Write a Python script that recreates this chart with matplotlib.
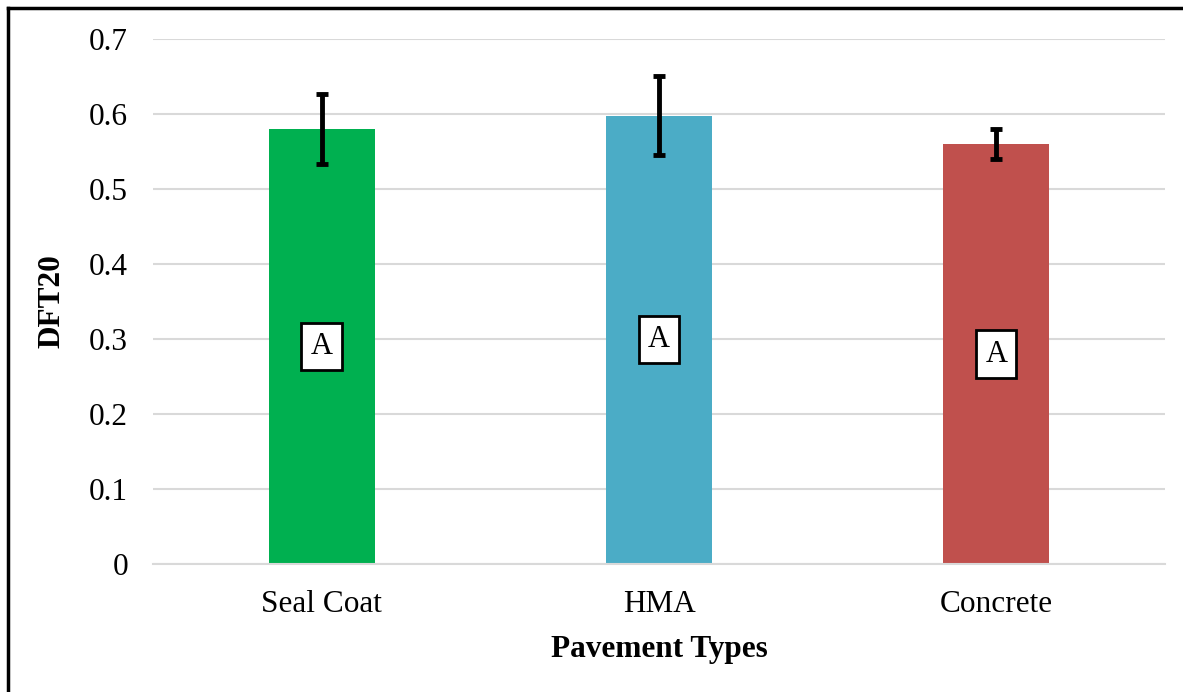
import matplotlib.pyplot as plt
from matplotlib.lines import Line2D

# dati
pavements = ['Seal Coat', 'HMA', 'Concrete']
dft20 = [0.580, 0.598, 0.560]
errors = [0.047, 0.053, 0.020]
groups = ['A', 'A', 'A']
colors = ['#00B050', '#4BACC6', '#C0504D']
yticks = [0, 0.1, 0.2, 0.3, 0.4, 0.5, 0.6, 0.7]

plt.rcParams['font.family'] = ['Liberation Serif', 'DejaVu Serif']

fig = plt.figure(figsize=(11.83, 6.92), dpi=100)
ax = fig.add_axes([153 / 1183, 128 / 692, 1012 / 1183, 525 / 692])

x = range(len(pavements))
ax.bar(x, dft20, width=0.315, color=colors, zorder=2)
ax.errorbar(x, dft20, yerr=errors, fmt='none', ecolor='black',
            elinewidth=3.5, capsize=4.5, capthick=3.5, zorder=3)

# etichette dei gruppi al centro delle barre
for i, (v, g) in enumerate(zip(dft20, groups)):
    ax.text(i, v / 2, g, ha='center', va='center', fontsize=22, zorder=4,
            bbox=dict(boxstyle='square,pad=0.3', facecolor='white',
                      edgecolor='black', linewidth=2))

ax.set_xlim(-0.5, 2.5)
ax.set_ylim(0, 0.7)
ax.set_yticks(yticks)
ax.set_yticklabels(['0' if t == 0 else f'{t:.1f}' for t in yticks])
ax.set_xticks(list(x))
ax.set_xticklabels(pavements)
ax.tick_params(axis='both', length=0, labelsize=22.5)
ax.tick_params(axis='y', pad=18)
ax.tick_params(axis='x', pad=19)
ax.grid(axis='y', color='#d9d9d9', linewidth=1.5, zorder=0)
ax.set_axisbelow(True)
for s in ['top', 'right', 'left']:
    ax.spines[s].set_visible(False)
ax.spines['bottom'].set_color('#d9d9d9')
ax.spines['bottom'].set_linewidth(1.5)

ax.set_xlabel('Pavement Types', fontsize=22.5, fontweight='bold', labelpad=11)
ax.set_ylabel('DFT20', fontsize=22.5, fontweight='bold')
ax.yaxis.set_label_coords((66 - 153) / 1012, 0.5)

# bordo della figura (solo sopra e a sinistra)
fig.add_artist(Line2D([8 / 1183, 8 / 1183], [0, 1 - 8 / 692], color='black',
                      linewidth=2.5, transform=fig.transFigure))
fig.add_artist(Line2D([8 / 1183, 1], [1 - 8 / 692, 1 - 8 / 692], color='black',
                      linewidth=2.5, transform=fig.transFigure))

fig.savefig('out.png', dpi=100)
